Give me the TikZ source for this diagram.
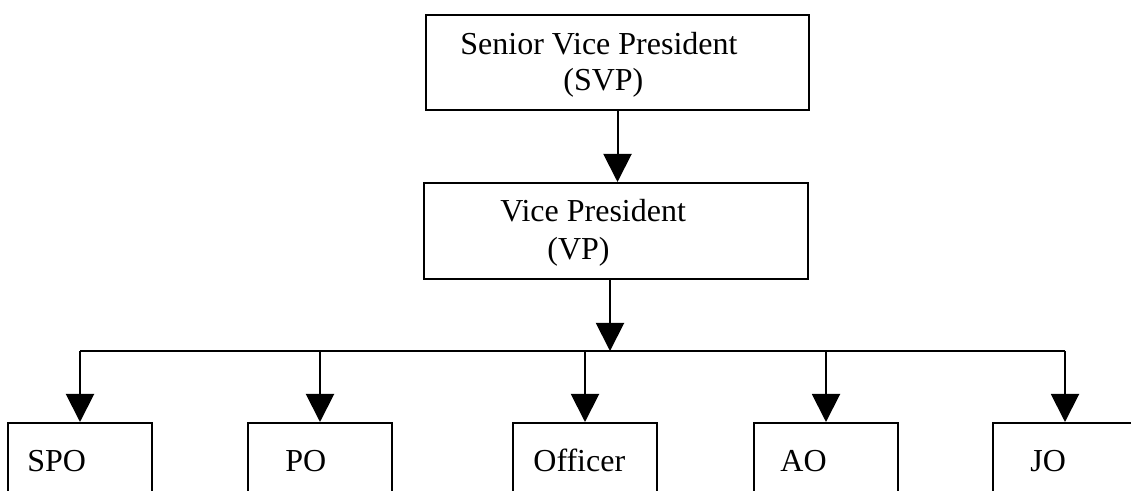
\documentclass[tikz,border=0pt]{standalone}
\usepackage{fontspec}
\setmainfont{Liberation Serif}
\usetikzlibrary{arrows.meta}
\begin{document}
\begin{tikzpicture}[x=0.5pt,y=-0.5pt,
        box/.style={draw, line width=1pt, inner sep=0pt},
        lowbox/.style={box, anchor=north, minimum width=72pt, minimum height=60pt},
        lbl/.style={anchor=base west, inner sep=0pt, font=\fontsize{16}{19}\selectfont},
        arr/.style={line width=1pt, -{Triangle[width=14pt,length=14pt]}}]
    \clip (0,0) rectangle (1131,491);
    % top boxes
    \node[box, minimum width=191.5pt, minimum height=47.5pt] (svp) at (617.5,62.5) {};
    \node[lbl] (svpa) at (460,55) {Senior Vice President};
    \node[lbl] (svpb) at (563,91) {(SVP)};
    \node[box, minimum width=192pt, minimum height=48pt] (vp) at (616,231) {};
    \node[lbl] (vpa) at (500,222) {Vice President};
    \node[lbl] (vpb) at (547,260) {(VP)};
    % bottom row
    \node[lowbox] (spo) at (80,422) {};
    \node[lowbox] (po) at (320,422) {};
    \node[lowbox] (off) at (585,422) {};
    \node[lowbox] (ao) at (826,422) {};
    \node[lowbox] (jo) at (1065,422) {};
    \node[lbl] (spot) at (27,472) {SPO};
    \node[lbl] (pot) at (285,472) {PO};
    \node[lbl] (offt) at (533,472) {Officer};
    \node[lbl] (aot) at (780,472) {AO};
    \node[lbl] (jot) at (1030,472) {JO};
    % connectors
    \coordinate (bus) at (610,351);
    \draw[arr] (svp.south) -- (svp.south |- vp.north);
    \draw[arr] (bus |- vp.south) -- (bus);
    \draw[line width=1pt] (spo.north |- bus) -- (jo.north |- bus);
    \foreach \n in {spo,po,off,ao,jo}
        \draw[arr] (\n.north |- bus) -- (\n.north);
\end{tikzpicture}
\end{document}
